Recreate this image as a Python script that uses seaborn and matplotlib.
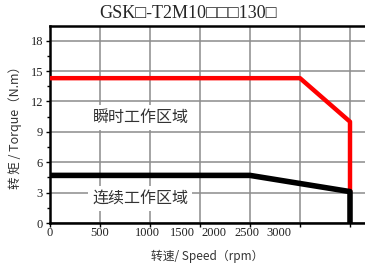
import matplotlib
matplotlib.use("Agg")
import matplotlib.pyplot as plt
import seaborn as sns
import pandas as pd
import numpy as np

# data
peak_speed = [0, 2500, 3000, 3000]
peak_torque = [14.3, 14.3, 10.0, 3.1]
rated_speed = [0, 2000, 3000, 3000]
rated_torque = [4.7, 4.7, 3.1, 0.0]
grid_x = [0, 500, 1000, 1500, 2000, 2500, 3000]
xlabel_pos = [0, 500, 975, 1320, 1635, 1970, 2290]
xlabel_txt = ["0", "500", "1000", "1500", "2000", "2500", "3000"]
y_ticks = [0, 3, 6, 9, 12, 15, 18]

sns.set_style("white")
plt.rcParams['font.family'] = ['Liberation Serif', 'DejaVu Sans']

fig = plt.figure(figsize=(3.65, 2.71), dpi=100)
ax = fig.add_axes([50/365, 1-223/271, 315/365, (223-25.5)/271])
ax.xaxis.remove_overlapping_locs = False

df_peak = pd.DataFrame({"speed": peak_speed, "torque": peak_torque})
df_rated = pd.DataFrame({"speed": rated_speed, "torque": rated_torque})

sns.lineplot(data=df_peak, x="speed", y="torque", ax=ax, color="#ff0000",
             lw=3.2, sort=False, estimator=None, zorder=4)
sns.lineplot(data=df_rated, x="speed", y="torque", ax=ax, color="black",
             lw=4.0, sort=False, estimator=None, zorder=5)

ax.set_xlim(0, 3150)
ax.set_ylim(0, 19.5)

ax.set_xticks(grid_x)
ax.set_xticklabels([""] * len(grid_x))
ax.set_xticks(xlabel_pos, minor=True)
ax.set_xticklabels(xlabel_txt, minor=True, fontsize=9, color="#222222",
                   family=['Liberation Serif'])
ax.tick_params(axis="x", which="minor", length=0, pad=3)
ax.tick_params(axis="x", which="major", length=3, width=1, direction="out",
               bottom=True, color="black")

ax.set_yticks(y_ticks)
ax.set_yticklabels([str(v) for v in y_ticks], fontsize=9, color="#222222",
                   family=['Liberation Serif'])
ax.set_yticks(np.arange(1.5, 19.5, 3), minor=True)
ax.tick_params(axis="y", which="major", length=3, width=1, direction="out",
               left=True, color="black", pad=2)
ax.tick_params(axis="y", which="minor", length=2, width=1, direction="out",
               left=True, color="black")

ax.grid(True, which="major", color="#8c8c8c", lw=1.1, zorder=0)
ax.set_axisbelow(True)

for s in ["left", "bottom", "top"]:
    ax.spines[s].set_visible(True)
    ax.spines[s].set_color("black")
    ax.spines[s].set_linewidth(1.8)
ax.spines["right"].set_visible(False)

ax.set_xlabel("转速/ Speed（rpm）", fontsize=8.5, color="#333333",
              family=['Noto Sans CJK SC', 'DejaVu Sans'], labelpad=8)
ax.set_ylabel("转 矩 / Torque（N.m）", fontsize=9, color="#333333",
              family=['Noto Sans CJK SC', 'DejaVu Sans'], labelpad=6)

fig.text(188/365, 1-14/271, "GSK□-T2M10□□□130□", ha="center", va="center",
         fontsize=13, family=['Liberation Serif', 'DejaVu Sans'])

bbox = dict(facecolor="white", edgecolor="none", pad=3)
ax.text(910, 10.4, "瞬时工作区域", ha="center", va="center", fontsize=11.5,
        family=['Noto Sans CJK SC'], color="#333333", bbox=bbox, zorder=3)
ax.text(900, 2.45, "连续工作区域", ha="center", va="center", fontsize=11.5,
        family=['Noto Sans CJK SC'], color="#333333", bbox=bbox, zorder=3)

fig.savefig("out.png", dpi=100)
